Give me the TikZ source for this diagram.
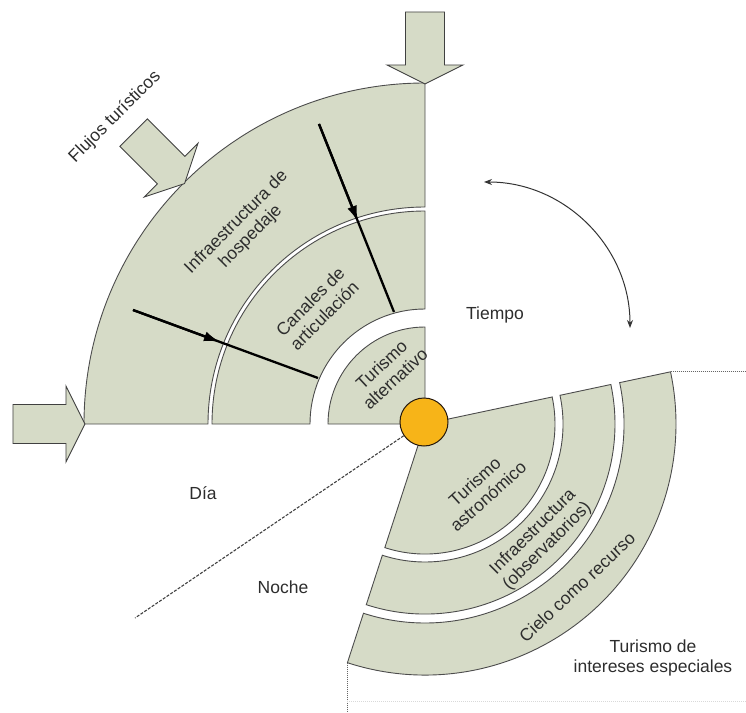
\documentclass[tikz,border=0pt]{standalone}
\usepackage{fontspec}
\setmainfont{Liberation Sans}
\usepackage{tikz}
\usetikzlibrary{arrows.meta,calc}
\definecolor{sage}{RGB}{214,219,199}
\definecolor{sun}{RGB}{247,180,24}
\definecolor{ink}{RGB}{45,45,45}
\newcommand{\ringpart}[4]{(#1:#3) -- (#1:#4) arc[start angle=#1,end angle=#2,radius=#4] -- (#2:#3) arc[start angle=#2,end angle=#1,radius=#3] -- cycle}
\newcommand{\piepart}[3]{(0,0) -- (#1:#3) arc[start angle=#1,end angle=#2,radius=#3] -- cycle}

\begin{document}
\begin{tikzpicture}[
  x=1pt,y=1pt,
  font=\fontsize{17.5}{20}\selectfont,
  sect/.style={fill=sage, draw=black!70, line width=0.9pt},
  flow/.style={fill=sage, draw=black!75, line width=0.9pt, line join=miter},
  lbl/.style={align=center, text=ink, inner sep=0pt},
  push/.style={line width=2.3pt, black},
  guide/.style={draw=black!75, line width=1.1pt, dash pattern=on 3pt off 1.5pt},
  dotline/.style={draw=black!60, line width=0.8pt, dash pattern=on 1pt off 1pt}
]
\useasboundingbox (-425,-288) rectangle (321,424);

% upper left: day side
\draw[sect] \piepart{90}{180}{97};
\draw[sect] \ringpart{90}{180}{115}{213};
\draw[sect] \ringpart{90}{180}{217}{341};

% tourist flows
\foreach \ang in {90,135,180} {
  \begin{scope}[rotate=\ang]
    \draw[flow] (340,0) -- (359,38) -- (359,19.5) -- (412,19.5)
      -- (412,-19.5) -- (359,-19.5) -- (359,-38) -- cycle;
  \end{scope}
}

% lower right: night side
\draw[sect] \piepart{-108}{12}{130};
\draw[sect] \ringpart{-108}{12}{138}{190};
\draw[sect] \ringpart{-108}{12}{199}{251};

% frame lines
\coordinate (edgeR) at (321,0);
\coordinate (edgeB) at (0,-288);
\coordinate (botL) at (0,-277);
\coordinate (nE) at (12:251);
\coordinate (nW) at (-108:251);
\draw[dotline] (nE) -- (nE -| edgeR);
\draw[dotline] (nW) -- (nW |- edgeB);
\draw[dotline, draw=black!15] (nW |- botL) -- (edgeR |- botL);

% black arrows across the rings
\coordinate (h1a) at (-106,300);
\coordinate (h1b) at (-31,112);
\coordinate (h2a) at (-292,114);
\coordinate (h2b) at (-107,46);
\foreach \a/\b/\t in {h1a/h1b/0.52, h2a/h2b/0.47} {
  \draw[push] (\a) -- (\b);
  \draw[push, -{Latex[length=16pt,width=10pt]}] (\a) -- ($(\a)!\t!(\b)$);
}

% day / night divider and sun
\coordinate (divEnd) at (-290,-194);
\node[circle, fill=sun, draw=black!80!brown, line width=1pt,
  minimum size=48pt, inner sep=0pt] (sol) at (-1,2) {};
\draw[guide] (sol) -- (divEnd);

% time arrow
\coordinate (t1) at (59,242);
\coordinate (t2) at (205,96);
\draw[line width=1pt, black!80, {Stealth[length=8pt,width=6pt]}-{Stealth[length=8pt,width=6pt]}]
  (t1) to[out=0, in=90] (t2);

% labels
\node[lbl, rotate=45] (flujos) at (-310,307) {Flujos turísticos};
\node[lbl, rotate=45] (hosp) at (133:266) {Infraestructura de\\hospedaje};
\node[lbl, rotate=45] (canal) at (133:158) {Canales de\\articulación};
\node[lbl, rotate=43] (alter) at (125:64) {Turismo\\alternativo};
\node[lbl, rotate=42] (astro) at (-49:86) {Turismo\\astronómico};
\node[lbl, rotate=45] (obser) at (-45:163) {Infraestructura\\(observatorios)};
\node[lbl, rotate=43] (cielo) at (-47:223) {Cielo como recurso};
\node[lbl] (tiempo) at (70,109) {Tiempo};
\node[lbl] (dia) at (-222,-69) {Día};
\node[lbl] (noche) at (-142,-163) {Noche};
\node[lbl] (especial) at (228,-234) {Turismo de\\intereses especiales};

\end{tikzpicture}
\end{document}
